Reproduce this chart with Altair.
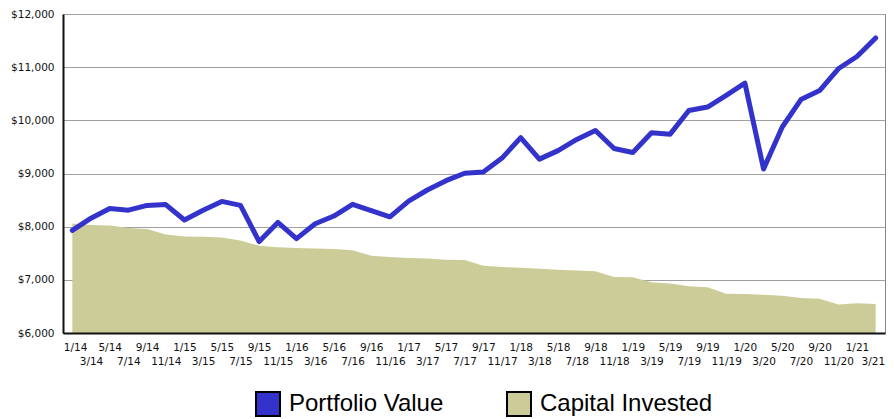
import altair as alt
import pandas as pd

periods = [
    "1/14", "3/14", "5/14", "7/14", "9/14", "11/14",
    "1/15", "3/15", "5/15", "7/15", "9/15", "11/15",
    "1/16", "3/16", "5/16", "7/16", "9/16", "11/16",
    "1/17", "3/17", "5/17", "7/17", "9/17", "11/17",
    "1/18", "3/18", "5/18", "7/18", "9/18", "11/18",
    "1/19", "3/19", "5/19", "7/19", "9/19", "11/19",
    "1/20", "3/20", "5/20", "7/20", "9/20", "11/20",
    "1/21", "3/21",
]

portfolio_value = [
    7930, 8160, 8340, 8310, 8400, 8415,
    8125, 8310, 8475, 8400, 7720, 8080,
    7775, 8055, 8200, 8420, 8300, 8185,
    8480, 8690, 8865, 9005, 9030, 9290,
    9675, 9270, 9430, 9640, 9810, 9470,
    9395, 9765, 9740, 10185, 10250, 10470,
    10700, 9085, 9875, 10390, 10560, 10970,
    11200, 11550,
]

capital_invested = [
    8060, 8030, 8020, 7975, 7955, 7855,
    7815, 7810, 7795, 7740, 7640, 7615,
    7600, 7590, 7580, 7555, 7455, 7430,
    7410, 7400, 7380, 7375, 7265, 7240,
    7225, 7210, 7190, 7175, 7160, 7055,
    7050, 6955, 6930, 6880, 6860, 6740,
    6735, 6720, 6700, 6660, 6645, 6535,
    6560, 6545,
]

series_names = ["Portfolio Value", "Capital Invested"]
series_colors = ["#3333CC", "#CCCC99"]
y_ticks = [6000, 7000, 8000, 9000, 10000, 11000, 12000]

df = pd.DataFrame({
    "period": periods,
    "portfolio": portfolio_value,
    "capital": capital_invested,
})
long_df = pd.DataFrame({
    "period": periods * 2,
    "series": [series_names[0]] * len(periods) + [series_names[1]] * len(periods),
    "value": portfolio_value + capital_invested,
})

x_enc = alt.X(
    "period:O",
    sort=periods,
    scale=alt.Scale(type="point", padding=0.5),
    axis=alt.Axis(
        title=None,
        labelAngle=0,
        ticks=False,
        labelPadding=9,
        labelFont="DejaVu Sans",
        labelFontSize=10.5,
        labelColor="#111111",
        labelLineHeight=14,
        labelBaseline="top",
        labelOverlap=False,
        labelFlush=12,
        labelFlushOffset=9,
        labelExpr="indexof(['3','7','11'], split(datum.value, '/')[0]) >= 0 ? ['', datum.value] : datum.value",
        domainColor="#111111",
        domainWidth=2,
        zindex=1,
    ),
)

y_scale = alt.Scale(domain=[6000, 12000], zero=False, nice=False)
y_axis = alt.Axis(
    title=None,
    values=y_ticks,
    format="$,.0f",
    ticks=False,
    labelPadding=9,
    labelFont="DejaVu Sans",
    labelFontSize=10.5,
    labelColor="#111111",
    domainColor="#111111",
    domainWidth=2,
    grid=True,
    gridColor="#a0a0a0",
    gridWidth=1,
)

area = alt.Chart(df).mark_area(color="#CCCC99", opacity=1).encode(
    x=x_enc,
    y=alt.Y("capital:Q", scale=y_scale, axis=y_axis),
    y2=alt.datum(6000),
)

line = alt.Chart(df).mark_line(
    color="#3333CC", strokeWidth=5, strokeCap="round", strokeJoin="round"
).encode(
    x=x_enc,
    y=alt.Y("portfolio:Q", scale=y_scale),
)

legend_layer = alt.Chart(long_df).mark_square(
    clip=True, filled=True, stroke="black", strokeWidth=2, opacity=1
).encode(
    x=x_enc,
    y=alt.datum(0, scale=y_scale),
    fill=alt.Fill(
        "series:N",
        scale=alt.Scale(domain=series_names, range=series_colors),
        legend=alt.Legend(
            title=None,
            orient="none",
            direction="horizontal",
            legendX=192,
            legendY=377,
            symbolType="square",
            symbolSize=576,
            symbolStrokeColor="black",
            symbolStrokeWidth=2,
            symbolOpacity=1,
            labelFont="Liberation Sans",
            labelFontSize=24,
            labelColor="#000000",
            labelOffset=8,
            columnPadding=59,
            padding=0,
            labelLimit=400,
        ),
    ),
)

chart = alt.layer(area, line, legend_layer).properties(
    width=822,
    height=319,
    autosize=alt.AutoSizeParams(type="none"),
    padding={"left": 55, "top": 6, "right": 1, "bottom": 84},
).configure_view(
    stroke="#888888", strokeWidth=1
)

chart.save("out.html", embed_options={"renderer": "svg", "actions": False})
